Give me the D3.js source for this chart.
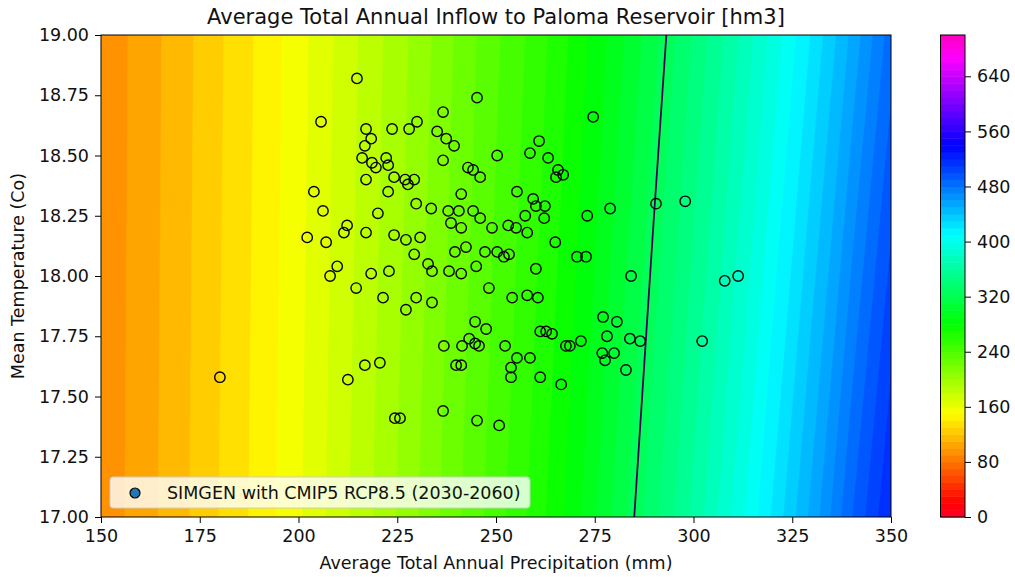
<!DOCTYPE html>
<html><head><meta charset="utf-8">
<script src="https://cdn.jsdelivr.net/npm/d3@7"></script>
<style>
body{margin:0;background:#fff}
text{font-family:"DejaVu Sans",sans-serif;fill:#111}
</style>
</head><body>
<svg id="chart" width="1015" height="577"></svg>
<script>
// ---------- data ----------
const gridPrecip = [150,160,170,180,190,200,210,220,230,240,250,260,270,280,290,300,310,320,330,340,350];
const gridTemp = [17, 19];
const inflowAt17 = [93,104.6,116.8,130.2,143.5,158.3,175.1,191.8,209.2,227.8,245.3,264,286,312,337,362.8,391,421,453,489,520];
const inflowAt19 = [92.4,103.6,115.5,128.6,141.7,155.9,171.7,187.5,203.3,221.2,238.1,254,273,294,317,341,366,393,421,452,485];
const lineLevel = [324.5];
const levels = d3.range(0, 701, 10);
const cbarTicks = [0,80,160,240,320,400,480,560,640];
const xTicks = [150,175,200,225,250,275,300,325,350];
const yTicks = [17,17.25,17.5,17.75,18,18.25,18.5,18.75,19];
const simPrecip = [214.8,245.2,236.6,274.6,205.7,230.0,217.1,223.7,228.0,235.1,237.4,218.4,260.9,216.8,239.4,250.3,258.6,263.2,216.1,236.6,222.2,218.6,219.6,222.7,242.9,244.2,265.7,267.0,265.2,246.0,224.2,217.1,227.0,229.3,227.7,222.7,203.9,255.3,241.2,259.4,262.4,260.1,290.5,297.9,278.9,229.8,206.2,233.6,237.9,240.6,244.2,220.1,273.1,257.4,262.2,246.0,238.6,249.0,253.1,212.3,241.2,255.1,257.9,211.5,217.1,224.2,230.8,202.2,227.2,207.0,265.0,242.4,239.6,247.2,250.3,253.3,229.3,270.5,272.8,252.0,209.8,232.8,233.8,245.0,208.0,222.9,218.4,238.1,241.2,260.1,284.2,214.6,248.2,229.8,221.4,254.1,257.9,260.6,233.8,227.2,244.7,247.5,277.1,280.6,252.3,243.2,261.2,262.7,278.1,283.9,276.9,279.9,244.7,245.7,264.2,271.5,268.7,302.2,236.8,241.4,267.7,286.5,258.6,255.3,216.8,220.6,277.6,239.9,241.2,253.8,282.9,180.1,212.5,253.8,261.2,266.5,236.6,224.4,225.7,245.2,250.8,307.9,311.3];
const simTemp = [18.82,18.74,18.68,18.66,18.64,18.64,18.61,18.61,18.61,18.60,18.57,18.57,18.56,18.54,18.54,18.50,18.51,18.49,18.49,18.48,18.49,18.47,18.45,18.46,18.45,18.44,18.44,18.42,18.41,18.41,18.41,18.40,18.40,18.40,18.38,18.35,18.35,18.35,18.34,18.32,18.29,18.29,18.30,18.31,18.28,18.30,18.27,18.28,18.27,18.27,18.27,18.26,18.25,18.25,18.24,18.24,18.22,18.20,18.21,18.21,18.20,18.20,18.18,18.18,18.18,18.17,18.16,18.16,18.15,18.14,18.14,18.12,18.10,18.10,18.10,18.09,18.09,18.08,18.08,18.08,18.04,18.05,18.02,18.04,18.00,18.02,18.01,18.02,18.01,18.03,18.00,17.95,17.95,17.91,17.91,17.91,17.92,17.91,17.89,17.86,17.81,17.78,17.83,17.81,17.71,17.74,17.77,17.77,17.75,17.74,17.68,17.68,17.72,17.71,17.76,17.73,17.71,17.73,17.71,17.71,17.71,17.73,17.66,17.66,17.63,17.64,17.65,17.63,17.63,17.62,17.61,17.58,17.57,17.58,17.58,17.55,17.44,17.41,17.41,17.40,17.38,17.98,18.00];

// ---------- layout ----------
const svg = d3.select("#chart");
const plot = {left:101, right:891, top:35, bottom:517};
const cbar = {left:940.5, right:965, top:35, bottom:517};
const FS = 17.5;

const x = d3.scaleLinear().domain([150,350]).range([plot.left, plot.right]);
const y = d3.scaleLinear().domain([17,19]).range([plot.bottom, plot.top]);

// gist_rainbow colormap
const cmapStops = [0,0.03,0.215,0.4,0.586,0.77,0.954,1];
const cmapColors = ["rgb(255,0,41)","rgb(255,0,0)","rgb(255,255,0)","rgb(0,255,0)","rgb(0,255,255)","rgb(0,0,255)","rgb(255,0,255)","rgb(255,0,191)"];
const cmap = d3.scaleLinear().domain(cmapStops).range(cmapColors).interpolate(d3.interpolateRgb).clamp(true);
const vmin = levels[0], vmax = levels[levels.length-1];
const bandColor = v => cmap((v + 5 - vmin) / (vmax - vmin));

// ---------- contour field ----------
const nx = gridPrecip.length, ny = gridTemp.length;
const values = inflowAt17.concat(inflowAt19);
const gx = d3.scaleLinear().domain([0.5, nx-0.5]).range([gridPrecip[0], gridPrecip[nx-1]]);
const gy = d3.scaleLinear().domain([0.5, ny-0.5]).range([gridTemp[0], gridTemp[ny-1]]);
const path = d3.geoPath(d3.geoTransform({point: function(px, py){ this.stream.point(x(gx(px)), y(gy(py))); }}));

svg.append("defs").append("clipPath").attr("id","clip")
  .append("rect").attr("x",plot.left).attr("y",plot.top)
  .attr("width",plot.right-plot.left).attr("height",plot.bottom-plot.top);

const field = svg.append("g").attr("clip-path","url(#clip)");
const bands = d3.contours().size([nx, ny]).thresholds(levels.slice(0,-1))(values);
field.selectAll("path.band").data(bands).join("path")
  .attr("class","band").attr("d", path)
  .attr("fill", d => bandColor(d.value)).attr("stroke", d => bandColor(d.value)).attr("stroke-width",0.5);

const iso = d3.contours().size([nx, ny]).thresholds(lineLevel)(values);
field.selectAll("path.iso").data(iso).join("path")
  .attr("class","iso").attr("d", path)
  .attr("fill","none").attr("stroke","#440154").attr("stroke-width",1.8);

// scatter
field.selectAll("circle.pt").data(simPrecip.map((p,i)=>[p, simTemp[i]])).join("circle")
  .attr("class","pt").attr("cx", d=>x(d[0])).attr("cy", d=>y(d[1])).attr("r",5.2)
  .attr("fill","none").attr("stroke","#000").attr("stroke-width",1.4);

// frame
svg.append("rect").attr("x",plot.left).attr("y",plot.top)
  .attr("width",plot.right-plot.left).attr("height",plot.bottom-plot.top)
  .attr("fill","none").attr("stroke","#000").attr("stroke-width",1);

// axes
const xAxis = svg.append("g").attr("transform",`translate(0,${plot.bottom})`)
  .call(d3.axisBottom(x).tickValues(xTicks).tickFormat(d3.format("d")).tickSize(6).tickSizeOuter(0).tickPadding(7));
const yAxis = svg.append("g").attr("transform",`translate(${plot.left},0)`)
  .call(d3.axisLeft(y).tickValues(yTicks).tickFormat(d3.format(".2f")).tickSize(6).tickSizeOuter(0).tickPadding(6));
[xAxis, yAxis].forEach(a => {
  a.select(".domain").remove();
  a.selectAll("text").style("font-size", FS+"px").style("font-family","DejaVu Sans").attr("fill","#111");
  a.selectAll("line").attr("stroke","#000");
});

// labels
svg.append("text").attr("x",(plot.left+plot.right)/2).attr("y",24).attr("text-anchor","middle")
  .style("font-size","21px").text("Average Total Annual Inflow to Paloma Reservoir [hm3]");
svg.append("text").attr("x",(plot.left+plot.right)/2).attr("y",569).attr("text-anchor","middle")
  .style("font-size",FS+"px").text("Average Total Annual Precipitation (mm)");
svg.append("text").attr("transform",`translate(24,${(plot.top+plot.bottom)/2}) rotate(-90)`).attr("text-anchor","middle")
  .style("font-size",FS+"px").text("Mean Temperature (Co)");

// legend
const lg = svg.append("g");
lg.append("rect").attr("x",110).attr("y",477).attr("width",420).attr("height",31).attr("rx",3)
  .attr("fill","#fff").attr("fill-opacity",0.8).attr("stroke","#ccc").attr("stroke-width",1);
lg.append("circle").attr("cx",135).attr("cy",493).attr("r",5).attr("fill","#1f77b4").attr("stroke","#000").attr("stroke-width",1.2);
lg.append("text").attr("x",167).attr("y",499).style("font-size",FS+"px").text("SIMGEN with CMIP5 RCP8.5 (2030-2060)");

// colorbar
const cy = d3.scaleLinear().domain([vmin, vmax]).range([cbar.bottom, cbar.top]);
const cb = svg.append("g");
cb.selectAll("rect.cb").data(levels.slice(0,-1)).join("rect").attr("class","cb")
  .attr("x",cbar.left).attr("width",cbar.right-cbar.left)
  .attr("y", d => cy(d+10)).attr("height", d => cy(d) - cy(d+10) + 0.5)
  .attr("fill", d => bandColor(d));
cb.append("rect").attr("x",cbar.left).attr("y",cbar.top).attr("width",cbar.right-cbar.left).attr("height",cbar.bottom-cbar.top)
  .attr("fill","none").attr("stroke","#000").attr("stroke-width",1);
const cAxis = svg.append("g").attr("transform",`translate(${cbar.right},0)`)
  .call(d3.axisRight(cy).tickValues(cbarTicks).tickFormat(d3.format("d")).tickSize(6).tickSizeOuter(0).tickPadding(6));
cAxis.select(".domain").remove();
cAxis.selectAll("text").style("font-size", FS+"px").style("font-family","DejaVu Sans").attr("fill","#111");
cAxis.selectAll("line").attr("stroke","#000");
</script>
</body></html>
